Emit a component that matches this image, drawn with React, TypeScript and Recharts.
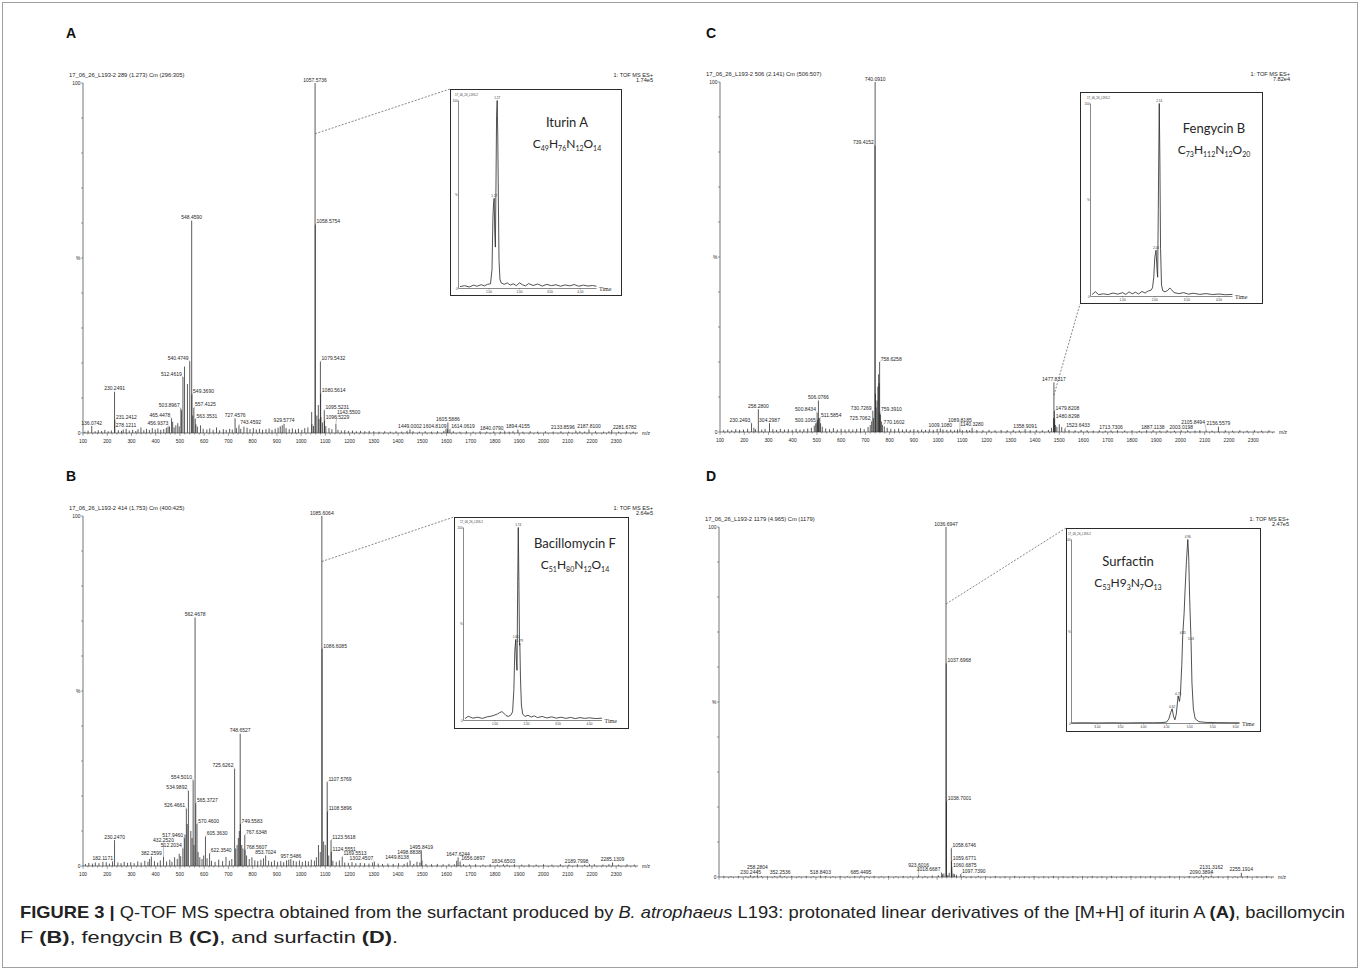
import React from "react";
import { ComposedChart, Bar, XAxis, YAxis, ReferenceLine, LineChart, Line, LabelList } from "recharts";

// ---------- data ----------
const MZ_MAJOR = [100, 200, 300, 400, 500, 600, 700, 800, 900, 1000, 1100, 1200, 1300, 1400, 1500, 1600, 1700, 1800, 1900, 2000, 2100, 2200, 2300];
const PCT_TICKS = [0, 10, 20, 30, 40, 50, 60, 70, 80, 90, 100];

// labelled peaks [m/z, % intensity]
const peaksA = [
  [136.0742, 2.0], [230.2491, 11.8], [231.2412, 3.6], [278.1211, 1.2], [456.9373, 1.8], [465.4478, 4.2],
  [503.8967, 7.0], [512.4619, 16.0], [540.4749, 20.5], [548.459, 60.7], [549.369, 11.0], [557.4125, 7.2],
  [563.3531, 4.0], [727.4576, 4.2], [743.4592, 2.2], [929.5774, 2.6], [1057.5736, 100], [1058.5754, 59.5],
  [1079.5432, 20.4], [1080.5614, 11.2], [1095.5231, 6.5], [1096.5229, 3.5], [1143.55, 2.6], [1449.0002, 1.0],
  [1604.8109, 1.0], [1605.5886, 3.0], [1614.0619, 1.0], [1840.079, 0.5], [1894.4155, 1.0], [2133.8596, 0.6],
  [2187.81, 1.0], [2281.6782, 0.8],
];
const grassA = [
  [108, 0.4], [121, 0.7], [150, 0.5], [163, 0.8], [177, 0.6], [190, 0.9], [204, 0.5], [217, 0.7], [246, 0.8],
  [259, 0.6], [266, 1.0], [291, 0.7], [305, 0.9], [318, 0.6], [327, 1.1], [339, 1.6], [351, 0.8], [362, 1.2],
  [374, 0.9], [386, 1.4], [398, 1.0], [409, 1.3], [421, 0.9], [433, 1.1], [444, 1.5], [451, 1.8], [470, 3.2],
  [476, 1.6], [483, 2.2], [491, 2.8], [497, 1.9], [507, 6.5], [519, 19], [531, 14], [553, 5], [566, 2.5],
  [572, 1.8], [585, 2.2], [596, 1.2], [611, 1.0], [623, 1.3], [637, 0.9], [651, 1.6], [664, 0.8], [679, 1.1],
  [691, 0.9], [705, 1.2], [716, 1.0], [733, 1.4], [751, 1.2], [764, 1.8], [777, 1.5], [789, 1.1], [803, 1.4],
  [815, 1.0], [828, 1.2], [841, 0.9], [855, 1.1], [868, 1.3], [880, 0.9], [893, 1.2], [905, 1.5], [914, 1.9],
  [922, 2.2], [938, 1.4], [951, 1.1], [964, 1.3], [977, 1.0], [989, 1.2], [1003, 0.9], [1015, 1.4], [1028, 1.6],
  [1043.56, 6], [1044.56, 2.5], [1051, 2], [1065, 5], [1071, 8], [1074, 4], [1081.55, 4.5], [1088, 3],
  [1102, 2], [1115, 1.4], [1127, 1.1], [1152, 0.9], [1166, 0.7], [1180, 0.8], [1195, 0.6], [1212, 0.7],
  [1228, 0.5], [1245, 0.6], [1263, 0.5], [1281, 0.6], [1300, 0.5], [1322, 0.4], [1345, 0.5], [1368, 0.4],
  [1392, 0.5], [1415, 0.4], [1437, 0.6], [1462, 0.5], [1488, 0.4], [1512, 0.5], [1538, 0.4], [1563, 0.5],
  [1589, 0.6], [1598, 1.2], [1628, 0.5], [1655, 0.4], [1682, 0.5], [1710, 0.4], [1738, 0.5], [1766, 0.4],
  [1795, 0.5], [1822, 0.4], [1858, 0.4], [1874, 0.5], [1915, 0.4], [1945, 0.5], [1976, 0.4], [2008, 0.5],
  [2040, 0.4], [2072, 0.5], [2104, 0.4], [2150, 0.5], [2170, 0.4], [2215, 0.5], [2248, 0.4], [2270, 0.5],
  [2310, 0.4], [2342, 0.5], [2370, 0.4],
];

const peaksB = [
  [182.1171, 1.2], [230.247, 7.4], [382.2599, 2.7], [432.252, 2.7], [512.2034, 5.0], [517.946, 7.9],
  [526.4661, 16.4], [534.9892, 21.5], [554.501, 24.5], [562.4678, 71], [565.3727, 17.9], [570.46, 12],
  [605.363, 8.4], [622.354, 3.6], [725.6262, 27.8], [748.6527, 37.8], [749.5583, 12], [767.6348, 8.8],
  [768.5607, 4.5], [853.7024, 3.0], [957.5486, 2.0], [1085.6064, 100], [1086.6085, 62], [1107.5769, 24],
  [1108.5896, 15.5], [1123.5618, 7.4], [1124.5551, 4.0], [1169.5513, 2.6], [1302.4507, 1.2], [1449.8138, 1.5],
  [1495.8419, 4.5], [1498.8838, 1.5], [1647.6244, 2.5], [1656.0897, 1.2], [1834.6503, 0.5], [2189.7998, 0.5],
  [2285.1309, 1.0],
];
const grassB = [
  [110, 0.6], [124, 0.9], [139, 0.7], [151, 1.0], [166, 0.8], [196, 1.1], [209, 0.7], [222, 1.3], [244, 1.0],
  [257, 0.8], [270, 1.2], [284, 0.9], [297, 1.1], [311, 0.8], [326, 1.3], [340, 1.0], [355, 1.5], [368, 1.2],
  [375, 2.0], [395, 1.4], [408, 1.0], [419, 1.6], [445, 1.3], [458, 1.8], [467, 1.2], [478, 2.5], [489, 2.0],
  [497, 3.5], [503, 2.8], [521, 9], [530, 12], [545, 10], [550, 8], [558, 6], [575, 4], [582, 2.5], [591, 2],
  [598, 3], [612, 2.2], [630, 1.5], [645, 1.2], [660, 1.8], [676, 1.4], [690, 2.6], [704, 1.5], [714, 2.0],
  [730, 5], [736, 6], [741, 8], [745, 10], [755, 6], [760, 5], [775, 3], [786, 2], [797, 2.5], [809, 1.6],
  [821, 1.4], [834, 1.8], [845, 2.2], [866, 1.5], [878, 1.2], [890, 1.6], [903, 1.2], [916, 1.4], [928, 1.1],
  [940, 1.6], [949, 1.8], [968, 1.5], [980, 1.3], [993, 1.6], [1005, 1.2], [1018, 1.5], [1030, 1.3],
  [1042, 1.8], [1055, 1.5], [1063, 2.5], [1071.6, 6], [1079, 4], [1093, 7], [1099.6, 6], [1114, 3],
  [1131, 1.5], [1145, 1.2], [1158, 1.6], [1180, 1.0], [1195, 0.9], [1210, 1.1], [1226, 0.8], [1244, 0.9],
  [1262, 0.8], [1280, 0.7], [1295, 1.0], [1318, 0.7], [1336, 0.6], [1358, 0.7], [1380, 0.6], [1402, 0.8],
  [1425, 0.6], [1438, 1.0], [1465, 0.6], [1478, 1.2], [1490, 1.0], [1515, 0.6], [1538, 0.5], [1562, 0.6],
  [1586, 0.5], [1610, 0.6], [1632, 0.5], [1642, 1.5], [1670, 0.5], [1695, 0.4], [1720, 0.5], [1750, 0.4],
  [1780, 0.5], [1810, 0.4], [1850, 0.4], [1880, 0.5], [1910, 0.4], [1940, 0.5], [1970, 0.4], [2000, 0.5],
  [2035, 0.4], [2070, 0.5], [2105, 0.4], [2140, 0.5], [2170, 0.4], [2210, 0.5], [2245, 0.4], [2270, 0.5],
  [2310, 0.4], [2345, 0.5], [2375, 0.4],
];

const peaksC = [
  [230.2493, 2.5], [258.28, 6.5], [304.2987, 2.5], [500.1065, 2.5], [500.8434, 5.5], [506.0766, 9.0],
  [511.5854, 4.0], [725.7062, 3.0], [730.7269, 6.0], [739.4152, 81.8], [740.091, 100], [758.6258, 20],
  [759.391, 5.5], [770.1602, 2.0], [1009.108, 1.0], [1089.8185, 0.8], [1140.328, 1.2], [1358.9091, 0.8],
  [1477.8317, 14.2], [1479.8208, 6.0], [1480.8298, 3.5], [1523.6433, 1.0], [1713.7306, 0.5], [1887.1138, 0.5],
  [2003.0198, 0.5], [2105.8494, 0.5], [2156.5579, 1.5],
];
const grassC = [
  [115, 0.5], [132, 0.7], [148, 0.5], [165, 0.8], [181, 0.6], [197, 0.7], [214, 0.9], [240, 1.2], [247, 0.8],
  [272, 0.7], [286, 0.9], [318, 0.8], [333, 0.6], [349, 0.9], [366, 0.7], [382, 0.8], [398, 0.6], [414, 0.9],
  [430, 0.7], [446, 0.8], [462, 1.0], [477, 1.2], [489, 1.8], [495, 2.5], [503, 3.5], [508, 4], [515, 2.5],
  [522, 1.5], [536, 1.0], [552, 0.8], [568, 1.1], [584, 0.7], [600, 0.9], [616, 0.7], [632, 0.8], [648, 0.7],
  [664, 0.9], [680, 1.1], [695, 0.8], [711, 1.4], [720, 2.0], [733, 4], [741.5, 11], [744, 7], [748, 9],
  [751.5, 13], [754.5, 16.5], [756.5, 14], [762, 5], [766, 3], [778, 1.6], [790, 1.2], [805, 0.9], [821, 0.8],
  [837, 1.0], [853, 0.7], [869, 0.8], [885, 0.6], [900, 0.8], [916, 0.6], [932, 0.7], [948, 0.6], [964, 0.8],
  [980, 0.6], [996, 0.9], [1020, 0.7], [1036, 0.6], [1052, 0.7], [1068, 0.5], [1080, 0.7], [1100, 0.5],
  [1118, 0.6], [1130, 0.5], [1160, 0.6], [1185, 0.5], [1210, 0.6], [1235, 0.5], [1260, 0.6], [1285, 0.5],
  [1310, 0.6], [1335, 0.5], [1380, 0.5], [1405, 0.6], [1430, 0.5], [1455, 0.6], [1468, 1.2], [1476, 4],
  [1484, 2.0], [1490, 1.5], [1500, 2.2], [1510, 1.4], [1540, 0.6], [1565, 0.5], [1590, 0.6], [1615, 0.5],
  [1640, 0.4], [1665, 0.5], [1690, 0.4], [1740, 0.5], [1770, 0.4], [1800, 0.5], [1830, 0.4], [1860, 0.5],
  [1915, 0.4], [1945, 0.5], [1975, 0.4], [2030, 0.5], [2060, 0.4], [2080, 0.5], [2130, 0.4], [2185, 0.5],
  [2215, 0.4], [2245, 0.5], [2275, 0.4], [2305, 0.5], [2335, 0.4], [2365, 0.5],
];

const peaksD = [
  [230.2445, 0.5], [258.2804, 0.5], [352.2536, 0.5], [518.8403, 0.4], [685.4495, 0.4], [923.6016, 0.5],
  [1018.6687, 1.2], [1036.6947, 100], [1037.6968, 61], [1038.7001, 21.6], [1058.6746, 8.2], [1059.6771, 4.5],
  [1060.6875, 2.5], [1097.739, 0.8], [2090.3894, 0.5], [2131.3162, 0.4], [2255.1914, 1.2],
];
const grassD = [
  [120, 0.3], [150, 0.2], [180, 0.3], [210, 0.2], [245, 0.3], [275, 0.3], [300, 0.2], [330, 0.3], [370, 0.2],
  [400, 0.3], [430, 0.2], [460, 0.3], [490, 0.2], [540, 0.3], [570, 0.2], [600, 0.3], [630, 0.2], [660, 0.3],
  [710, 0.2], [740, 0.3], [770, 0.2], [800, 0.3], [830, 0.2], [860, 0.3], [890, 0.2], [950, 0.3], [980, 0.4],
  [1005, 0.5], [1022, 0.8], [1028, 1.0], [1044, 0.6], [1050, 1.2], [1066, 1.0], [1072, 0.8], [1080, 0.6],
  [1110, 0.3], [1140, 0.2], [1170, 0.3], [1200, 0.2], [1240, 0.3], [1280, 0.2], [1320, 0.3], [1360, 0.2],
  [1400, 0.3], [1440, 0.2], [1480, 0.3], [1520, 0.2], [1560, 0.3], [1600, 0.2], [1640, 0.3], [1680, 0.2],
  [1720, 0.3], [1760, 0.2], [1800, 0.3], [1840, 0.2], [1880, 0.3], [1920, 0.2], [1960, 0.3], [2000, 0.2],
  [2040, 0.3], [2070, 0.2], [2110, 0.3], [2160, 0.2], [2200, 0.3], [2230, 0.2], [2280, 0.3], [2320, 0.2],
  [2360, 0.3],
];

// chromatogram insets [time, %]
const insetA = [
  [0.05, 1], [0.2, 1.5], [0.35, 0.8], [0.5, 1.8], [0.6, 1.2], [0.75, 2], [0.85, 1.4], [0.95, 2.2], [1.05, 2.5],
  [1.1, 10], [1.13, 38], [1.15, 45], [1.17, 48], [1.19, 30], [1.21, 22], [1.23, 55], [1.25, 92], [1.27, 100],
  [1.29, 80], [1.31, 45], [1.33, 15], [1.36, 5], [1.4, 3], [1.5, 2.2], [1.6, 3], [1.7, 1.8], [1.8, 2.5],
  [1.9, 1.5], [2.0, 3], [2.1, 2], [2.2, 1.4], [2.3, 2.6], [2.45, 1.6], [2.6, 2.4], [2.75, 1.3], [2.9, 2.2],
  [3.05, 1.5], [3.2, 2], [3.35, 1.2], [3.5, 1.9], [3.65, 1.4], [3.8, 2.1], [3.95, 1.2], [4.1, 1.8], [4.25, 1.3],
  [4.4, 1.6], [4.53, 1.2],
];
const insetALabels = [1.17, 1.27];
const insetB = [
  [0.05, 1], [0.15, 2.2], [0.3, 1.2], [0.45, 1.7], [0.6, 1.1], [0.75, 1.9], [0.9, 2.3], [1.0, 2.9], [1.08, 3.4],
  [1.15, 4.1], [1.22, 4.6], [1.28, 3.8], [1.35, 2.6], [1.42, 2.1], [1.5, 2.7], [1.56, 4.5], [1.6, 16], [1.63, 36],
  [1.66, 42], [1.68, 31], [1.7, 26], [1.72, 68], [1.74, 100], [1.76, 72], [1.78, 39], [1.79, 40], [1.81, 22],
  [1.84, 8], [1.88, 3.4], [1.95, 2.1], [2.05, 2.7], [2.15, 1.8], [2.25, 2.4], [2.35, 1.5], [2.5, 2.1], [2.65, 1.3],
  [2.8, 1.9], [2.95, 1.2], [3.1, 1.7], [3.25, 1.1], [3.4, 1.6], [3.55, 1.0], [3.7, 1.5], [3.85, 1.1], [4.0, 1.4],
  [4.2, 1.0], [4.4, 1.2],
];
const insetBLabels = [1.66, 1.74, 1.79];
const insetC = [
  [0.05, 1], [0.15, 2.5], [0.25, 1], [0.4, 1.4], [0.55, 1], [0.7, 1.8], [0.85, 1.2], [1.0, 2], [1.1, 1.1],
  [1.2, 2.4], [1.3, 1.4], [1.4, 2.2], [1.5, 1.3], [1.6, 2.6], [1.7, 1.8], [1.8, 2.9], [1.88, 3.2], [1.93, 4.5],
  [1.97, 10], [2.0, 20], [2.04, 24], [2.07, 14], [2.09, 10], [2.11, 45], [2.14, 100], [2.16, 70], [2.18, 25],
  [2.21, 6], [2.25, 3], [2.32, 2.4], [2.4, 3.1], [2.47, 4.4], [2.52, 3.6], [2.6, 2], [2.75, 1.5], [2.9, 2],
  [3.05, 1.2], [3.2, 1.7], [3.4, 1.1], [3.6, 1.5], [3.8, 1], [4.0, 1.3], [4.2, 0.9], [4.42, 1.1],
];
const insetCLabels = [2.04, 2.14];
const insetD = [
  [2.44, 0.3], [2.7, 0.4], [3.0, 0.3], [3.3, 0.4], [3.6, 0.3], [3.9, 0.4], [4.2, 0.4], [4.4, 0.5], [4.5, 0.8],
  [4.55, 2.5], [4.59, 6], [4.62, 8], [4.65, 4], [4.68, 2], [4.71, 5], [4.75, 15], [4.78, 12], [4.8, 16],
  [4.83, 32], [4.85, 48], [4.88, 60], [4.9, 72], [4.93, 88], [4.96, 100], [4.98, 90], [5.0, 68], [5.03, 45],
  [5.05, 22], [5.08, 8], [5.12, 2.5], [5.2, 1], [5.35, 0.6], [5.6, 0.5], [5.9, 0.4], [6.08, 0.4],
];
const insetDLabels = [4.62, 4.75, 4.85, 4.96, 5.03];

const TIME_TICKS = [1, 2, 3, 4];
const TIME_TICKS_D = [3, 3.5, 4, 4.5, 5, 5.5, 6];

// ---------- layout & style ----------
const SANS = "'Liberation Sans', Arial, sans-serif";
const LATO = "Lato, 'Open Sans', sans-serif";
const INK = "#262626";
const AXIS = "#3a3a3a";
const MZ_MIN = 100;
const MZ_MAX = 2390;
const PLOT_W = 555;
const PLOT_H = 350;
const MARGIN = { top: 20, right: 40, left: 0, bottom: 0 };
const Y_AXIS_W = 20;
const X_AXIS_H = 14;
const CHART_W = Y_AXIS_W + PLOT_W + MARGIN.right;
const CHART_H = MARGIN.top + PLOT_H + X_AXIS_H;
const PX_MZ = PLOT_W / (MZ_MAX - MZ_MIN);
const PX_PCT = PLOT_H / 100;
const LABEL_FS = 5;

const MZ_TICKS = MZ_MAJOR.flatMap((v) => [v, v + 20, v + 40, v + 60, v + 80]).filter((v) => v < MZ_MAX);

function labelWidth(s: string) {
  let w = 0;
  for (const c of s) w += c === "." ? 0.278 * LABEL_FS : 0.556 * LABEL_FS;
  return w;
}

// greedy label placement in plot pixels: above the peak, beside it, or lifted
function placeLabels(rows: any[]) {
  const lines = rows.map((r) => ({ x: (r.mz - MZ_MIN) * PX_MZ, top: (100 - r.i) * PX_PCT }));
  const boxes: any[] = [];
  const order = rows.map((_, k) => k).filter((k) => rows[k].label).sort((a, b) => rows[b].i - rows[a].i);
  const h = 4;
  for (const k of order) {
    const r = rows[k];
    const cx = lines[k].x;
    const top = lines[k].top;
    const w = labelWidth(r.label);
    const tallRight = lines.some((ln, j) => j !== k && ln.x > cx && ln.x - cx < 1.5 && ln.top < top);
    const cands = tallRight ? [cx - w / 2, cx - 1.2 - w, cx + 1.2] : [cx - w / 2, cx + 1.2, cx - 1.2 - w];
    let found: any = null;
    for (let lift = 0; lift < 160 && !found; lift += 1) {
      const b = top - 1.5 - lift;
      for (const l of cands) {
        const box = { l, r: l + w, t: b - h, b };
        const hitLine = lines.some((ln, j) => j !== k && ln.x >= box.l - 0.4 && ln.x <= box.r + 0.4 && ln.top < box.b);
        if (hitLine) continue;
        const hitBox = boxes.some((o) => o.l < box.r + 0.8 && o.r > box.l - 0.8 && o.t < box.b + 0.4 && o.b > box.t - 0.4);
        if (hitBox) continue;
        found = box;
        break;
      }
    }
    if (!found) found = { l: cx - w / 2, r: cx + w / 2, t: top - 1.5 - h, b: top - 1.5 };
    boxes.push(found);
    r.dx = found.l - cx;
    r.dy = found.b - top;
  }
}

function buildRows(peaks: number[][], grass: number[][]) {
  const rows: any[] = [
    ...peaks.map(([mz, i]) => ({ mz, i, label: mz.toFixed(4) })),
    ...grass.map(([mz, i]) => ({ mz, i })),
  ].sort((a, b) => a.mz - b.mz);
  placeLabels(rows);
  return rows;
}

function Stick(props: any) {
  const { x, y, width, height } = props;
  const p = props.payload || props;
  if (x == null || y == null || isNaN(x) || isNaN(y)) return null;
  const cx = x + (width || 0) / 2;
  const base = y + (height || 0);
  const parts: any[] = [<line key="s" x1={cx} x2={cx} y1={y} y2={base} stroke={INK} strokeWidth={0.75} />];
  if (p.label) {
    const tx = cx + p.dx;
    const ty = y + p.dy;
    const w = labelWidth(p.label);
    const ax = Math.min(Math.max(cx, tx), tx + w);
    if (Math.abs(ax - cx) > 0.6 || p.dy < -3) {
      parts.push(<line key="l" x1={ax} y1={ty + 0.6} x2={cx} y2={y - 0.3} stroke="#555" strokeWidth={0.35} />);
    }
    parts.push(
      <text key="t" x={tx} y={ty} fontSize={LABEL_FS} fill={INK} fontFamily={SANS}>
        {p.label}
      </text>
    );
  }
  return <g>{parts}</g>;
}

function MzTick(props: any) {
  const { x, y, payload, showLabel } = props;
  const v = payload.value;
  const major = v % 100 === 0;
  return (
    <g>
      <line x1={x} x2={x} y1={y} y2={y + (major ? 2.8 : 1.5)} stroke={AXIS} strokeWidth={0.5} />
      {major && showLabel ? (
        <text x={x} y={y + 9.5} textAnchor="middle" fontSize={4.9} fill={INK} fontFamily={SANS}>
          {v}
        </text>
      ) : null}
    </g>
  );
}

function PctTick(props: any) {
  const { x, y, payload } = props;
  const v = payload.value;
  const txt = v === 100 ? "100" : v === 0 ? "0" : v === 50 ? "%" : "";
  return (
    <g>
      <line x1={x - 2} x2={x} y1={y} y2={y} stroke={AXIS} strokeWidth={0.5} />
      {txt ? (
        <text x={x - 2.6} y={y + 1.8} textAnchor="end" fontSize={4.9} fill={INK} fontFamily={SANS}>
          {txt}
        </text>
      ) : null}
    </g>
  );
}

function MainPanel({ plotLeft, plotTop, rows, link, showTickLabels }: any) {
  const toMz = (px: number) => MZ_MIN + (px - plotLeft) / PX_MZ;
  const toPct = (py: number) => 100 - (py - plotTop) / PX_PCT;
  return (
    <div style={{ position: "absolute", left: plotLeft - Y_AXIS_W, top: plotTop - MARGIN.top }}>
      <ComposedChart width={CHART_W} height={CHART_H} data={rows} margin={MARGIN}>
        <XAxis
          dataKey="mz"
          type="number"
          domain={[MZ_MIN, MZ_MAX]}
          ticks={MZ_TICKS}
          interval={0}
          height={X_AXIS_H}
          tickSize={0}
          tickMargin={0}
          tickLine={false}
          axisLine={{ stroke: AXIS, strokeWidth: 0.7 }}
          tick={(p: any) => <MzTick {...p} showLabel={showTickLabels} />}
        />
        <YAxis
          type="number"
          domain={[0, 100]}
          ticks={PCT_TICKS}
          interval={0}
          width={Y_AXIS_W}
          tickSize={0}
          tickMargin={0}
          tickLine={false}
          axisLine={{ stroke: AXIS, strokeWidth: 0.7 }}
          tick={(p: any) => <PctTick {...p} />}
        />
        <Bar dataKey="i" barSize={1} isAnimationActive={false} shape={(p: any) => <Stick {...p} />} />
        <ReferenceLine
          segment={[
            { x: link.mz, y: link.pct },
            { x: toMz(link.toX), y: toPct(link.toY) },
          ]}
          stroke="#555"
          strokeWidth={0.7}
          strokeDasharray="2 1.5"
          ifOverflow="visible"
        />
      </ComposedChart>
    </div>
  );
}

function TimeTick(props: any) {
  const { x, y, payload } = props;
  return (
    <g>
      <line x1={x} x2={x} y1={y} y2={y + 1.2} stroke={AXIS} strokeWidth={0.4} />
      <text x={x} y={y + 4.4} textAnchor="middle" fontSize={3.1} fill="#333" fontFamily={SANS}>
        {Number(payload.value).toFixed(2)}
      </text>
    </g>
  );
}

function InsetPctTick(props: any) {
  const { x, y, payload } = props;
  const v = payload.value;
  const txt = v === 100 ? "100" : v === 0 ? "0" : "%";
  return (
    <text x={x - 0.8} y={y + 1} textAnchor="end" fontSize={3.1} fill="#333" fontFamily={SANS}>
      {txt}
    </text>
  );
}

function InsetPeakLabel(props: any) {
  const { x, y, value } = props;
  if (value == null || x == null) return null;
  return (
    <text x={x} y={y - 1.2} textAnchor="middle" fontSize={3.1} fill="#333" fontFamily={SANS}>
      {value}
    </text>
  );
}

function Inset({ box, plot, data, labels, domain, ticks }: any) {
  const B = 1.5;
  const cw = box.w - 2 * B;
  const ch = box.h - 2 * B;
  const leftGap = plot.l - (box.x + B);
  const yW = Math.min(5, leftGap);
  const xH = 5;
  const margin = {
    top: plot.t - (box.y + B),
    right: box.x + box.w - B - plot.r,
    left: leftGap - yW,
    bottom: Math.max(0, box.y + box.h - B - plot.b - xH),
  };
  const rows = data.map(([t, v]: number[]) => ({ t, v, label: labels.includes(t) ? t.toFixed(2) : undefined }));
  return (
    <div
      style={{
        position: "absolute",
        left: box.x,
        top: box.y,
        width: box.w,
        height: box.h,
        boxSizing: "border-box",
        border: `${B}px solid #2b2b2b`,
        background: "#fff",
      }}
    >
      <LineChart width={cw} height={ch} data={rows} margin={margin}>
        <XAxis
          dataKey="t"
          type="number"
          domain={domain}
          ticks={ticks}
          interval={0}
          height={xH}
          tickSize={0}
          tickMargin={0}
          tickLine={false}
          axisLine={{ stroke: AXIS, strokeWidth: 0.6 }}
          tick={TimeTick}
        />
        <YAxis
          type="number"
          domain={[0, 100]}
          ticks={[0, 50, 100]}
          interval={0}
          width={yW}
          tickSize={0}
          tickMargin={0}
          tickLine={false}
          axisLine={{ stroke: AXIS, strokeWidth: 0.6 }}
          tick={InsetPctTick}
        />
        <Line dataKey="v" type="linear" stroke={INK} strokeWidth={0.8} dot={false} isAnimationActive={false}>
          <LabelList dataKey="label" content={InsetPeakLabel} />
        </Line>
      </LineChart>
    </div>
  );
}

function Formula({ x, y, parts }: any) {
  return (
    <text x={x} y={y} textAnchor="middle" fontFamily={LATO} fontSize={12} fill={INK}>
      {parts.flatMap(([el, n]: string[], k: number) => [
        <tspan key={k + "e"} dy={k === 0 ? 0 : -3}>
          {el}
        </tspan>,
        <tspan key={k + "n"} dy={3} fontSize={7}>
          {n}
        </tspan>,
      ])}
    </text>
  );
}

const PANELS = [
  {
    key: "A", letter: [66, 38], plotLeft: 83, plotTop: 83, rows: buildRows(peaksA, grassA), showTickLabels: true,
    header: "17_06_26_L193-2 289 (1.273) Cm (296:305)", scale: "1.74e5",
    link: { mz: 1057.5736, pct: 85.5, toX: 450, toY: 89 },
    inset: { box: { x: 450, y: 89, w: 172, h: 207 }, plot: { l: 459, t: 101, r: 597, b: 289 }, data: insetA, labels: insetALabels, domain: [0, 4.53], ticks: TIME_TICKS },
    name: "Iturin A", nameAt: [567, 127], formula: [["C", "49"], ["H", "76"], ["N", "12"], ["O", "14"]],
  },
  {
    key: "B", letter: [66, 481], plotLeft: 83, plotTop: 516, rows: buildRows(peaksB, grassB), showTickLabels: true,
    header: "17_06_26_L193-2 414 (1.753) Cm (400:425)", scale: "2.64e5",
    link: { mz: 1085.6064, pct: 87, toX: 454, toY: 517 },
    inset: { box: { x: 454, y: 517, w: 175, h: 212 }, plot: { l: 464, t: 528, r: 602.5, b: 721 }, data: insetB, labels: insetBLabels, domain: [0, 4.4], ticks: TIME_TICKS },
    name: "Bacillomycin F", nameAt: [575, 548], formula: [["C", "51"], ["H", "80"], ["N", "12"], ["O", "14"]],
  },
  {
    key: "C", letter: [706, 38], plotLeft: 720, plotTop: 82, rows: buildRows(peaksC, grassC), showTickLabels: true,
    header: "17_06_26_L193-2 506 (2.141) Cm (506:507)", scale: "7.82e4",
    link: { mz: 1477.8317, pct: 10.5, toX: 1080, toY: 304 },
    inset: { box: { x: 1080, y: 92, w: 183, h: 212 }, plot: { l: 1091, t: 104, r: 1233, b: 297 }, data: insetC, labels: insetCLabels, domain: [0, 4.42], ticks: TIME_TICKS },
    name: "Fengycin B", nameAt: [1214, 133], formula: [["C", "73"], ["H", "112"], ["N", "12"], ["O", "20"]],
  },
  {
    key: "D", letter: [706, 481], plotLeft: 719, plotTop: 527, rows: buildRows(peaksD, grassD), showTickLabels: false,
    header: "17_06_26_L193-2 1179 (4.965) Cm (1179)", scale: "2.47e5",
    link: { mz: 1036.6947, pct: 78, toX: 1066, toY: 528 },
    inset: { box: { x: 1066, y: 528, w: 195, h: 204 }, plot: { l: 1072, t: 540, r: 1240, b: 724 }, data: insetD, labels: insetDLabels, domain: [2.44, 6.08], ticks: TIME_TICKS_D },
    name: "Surfactin", nameAt: [1128, 566], formula: [["C", "53"], ["H9", "3"], ["N", "7"], ["O", "13"]],
  },
];

const CAPTION_FONT = "'Liberation Sans Narrow', 'Liberation Sans', sans-serif";

export default function App() {
  return (
    <div style={{ position: "absolute", left: 0, top: 0, width: 1360, height: 970, background: "#fff", overflow: "hidden" }}>
      {PANELS.map((p) => (
        <MainPanel key={p.key} plotLeft={p.plotLeft} plotTop={p.plotTop} rows={p.rows} link={p.link} showTickLabels={p.showTickLabels} />
      ))}
      {PANELS.map((p) => (
        <Inset key={p.key + "i"} {...p.inset} />
      ))}
      <svg width={1360} height={970} style={{ position: "absolute", left: 0, top: 0, pointerEvents: "none" }}>
        <rect x={2.5} y={2.5} width={1355} height={965} fill="none" stroke="#a0a0a0" strokeWidth={1} />
        {PANELS.map((p) => {
          const ib = p.inset.plot;
          return (
            <g key={p.key + "o"}>
              <text x={p.letter[0]} y={p.letter[1]} fontFamily={SANS} fontWeight="bold" fontSize={14} fill="#111">
                {p.key}
              </text>
              <text x={p.plotLeft - 14} y={p.plotTop - 6} fontFamily={SANS} fontSize={5.8} fill={INK}>
                {p.header}
              </text>
              <text x={p.plotLeft + 570} y={p.plotTop - 6} textAnchor="end" fontFamily={SANS} fontSize={5.6} fill={INK}>
                1: TOF MS ES+
              </text>
              <text x={p.plotLeft + 570} y={p.plotTop - 0.8} textAnchor="end" fontFamily={SANS} fontSize={5.6} fill={INK}>
                {p.scale}
              </text>
              <text x={p.plotLeft + PLOT_W + 4} y={p.plotTop + PLOT_H + 2} fontFamily={SANS} fontSize={5} fill={INK}>
                m/z
              </text>
              <text x={ib.l - 4} y={ib.t - 5} fontFamily={SANS} fontSize={2.8} fill="#333">
                17_06_26_L193-2
              </text>
              <text x={ib.r + 2} y={ib.b + 2} fontFamily="'Liberation Serif', serif" fontSize={6} fill={INK}>
                Time
              </text>
              <text x={p.nameAt[0]} y={p.nameAt[1]} textAnchor="middle" fontFamily={LATO} fontSize={13} fill={INK}>
                {p.name}
              </text>
              <Formula x={p.nameAt[0]} y={p.nameAt[1] + 21} parts={p.formula} />
            </g>
          );
        })}
        <text x={20} y={918} fontFamily={CAPTION_FONT} fontSize={17} fill="#222" textLength={1325} lengthAdjust="spacingAndGlyphs">
          <tspan fontWeight="bold">FIGURE 3 |</tspan> Q-TOF MS spectra obtained from the surfactant produced by{" "}
          <tspan fontStyle="italic">B. atrophaeus</tspan> L193: protonated linear derivatives of the [M+H] of iturin A{" "}
          <tspan fontWeight="bold">(A)</tspan>, bacillomycin
        </text>
        <text x={20} y={943} fontFamily={CAPTION_FONT} fontSize={17} fill="#222" textLength={378} lengthAdjust="spacingAndGlyphs">
          F <tspan fontWeight="bold">(B)</tspan>, fengycin B <tspan fontWeight="bold">(C)</tspan>, and surfactin{" "}
          <tspan fontWeight="bold">(D)</tspan>.
        </text>
      </svg>
    </div>
  );
}
